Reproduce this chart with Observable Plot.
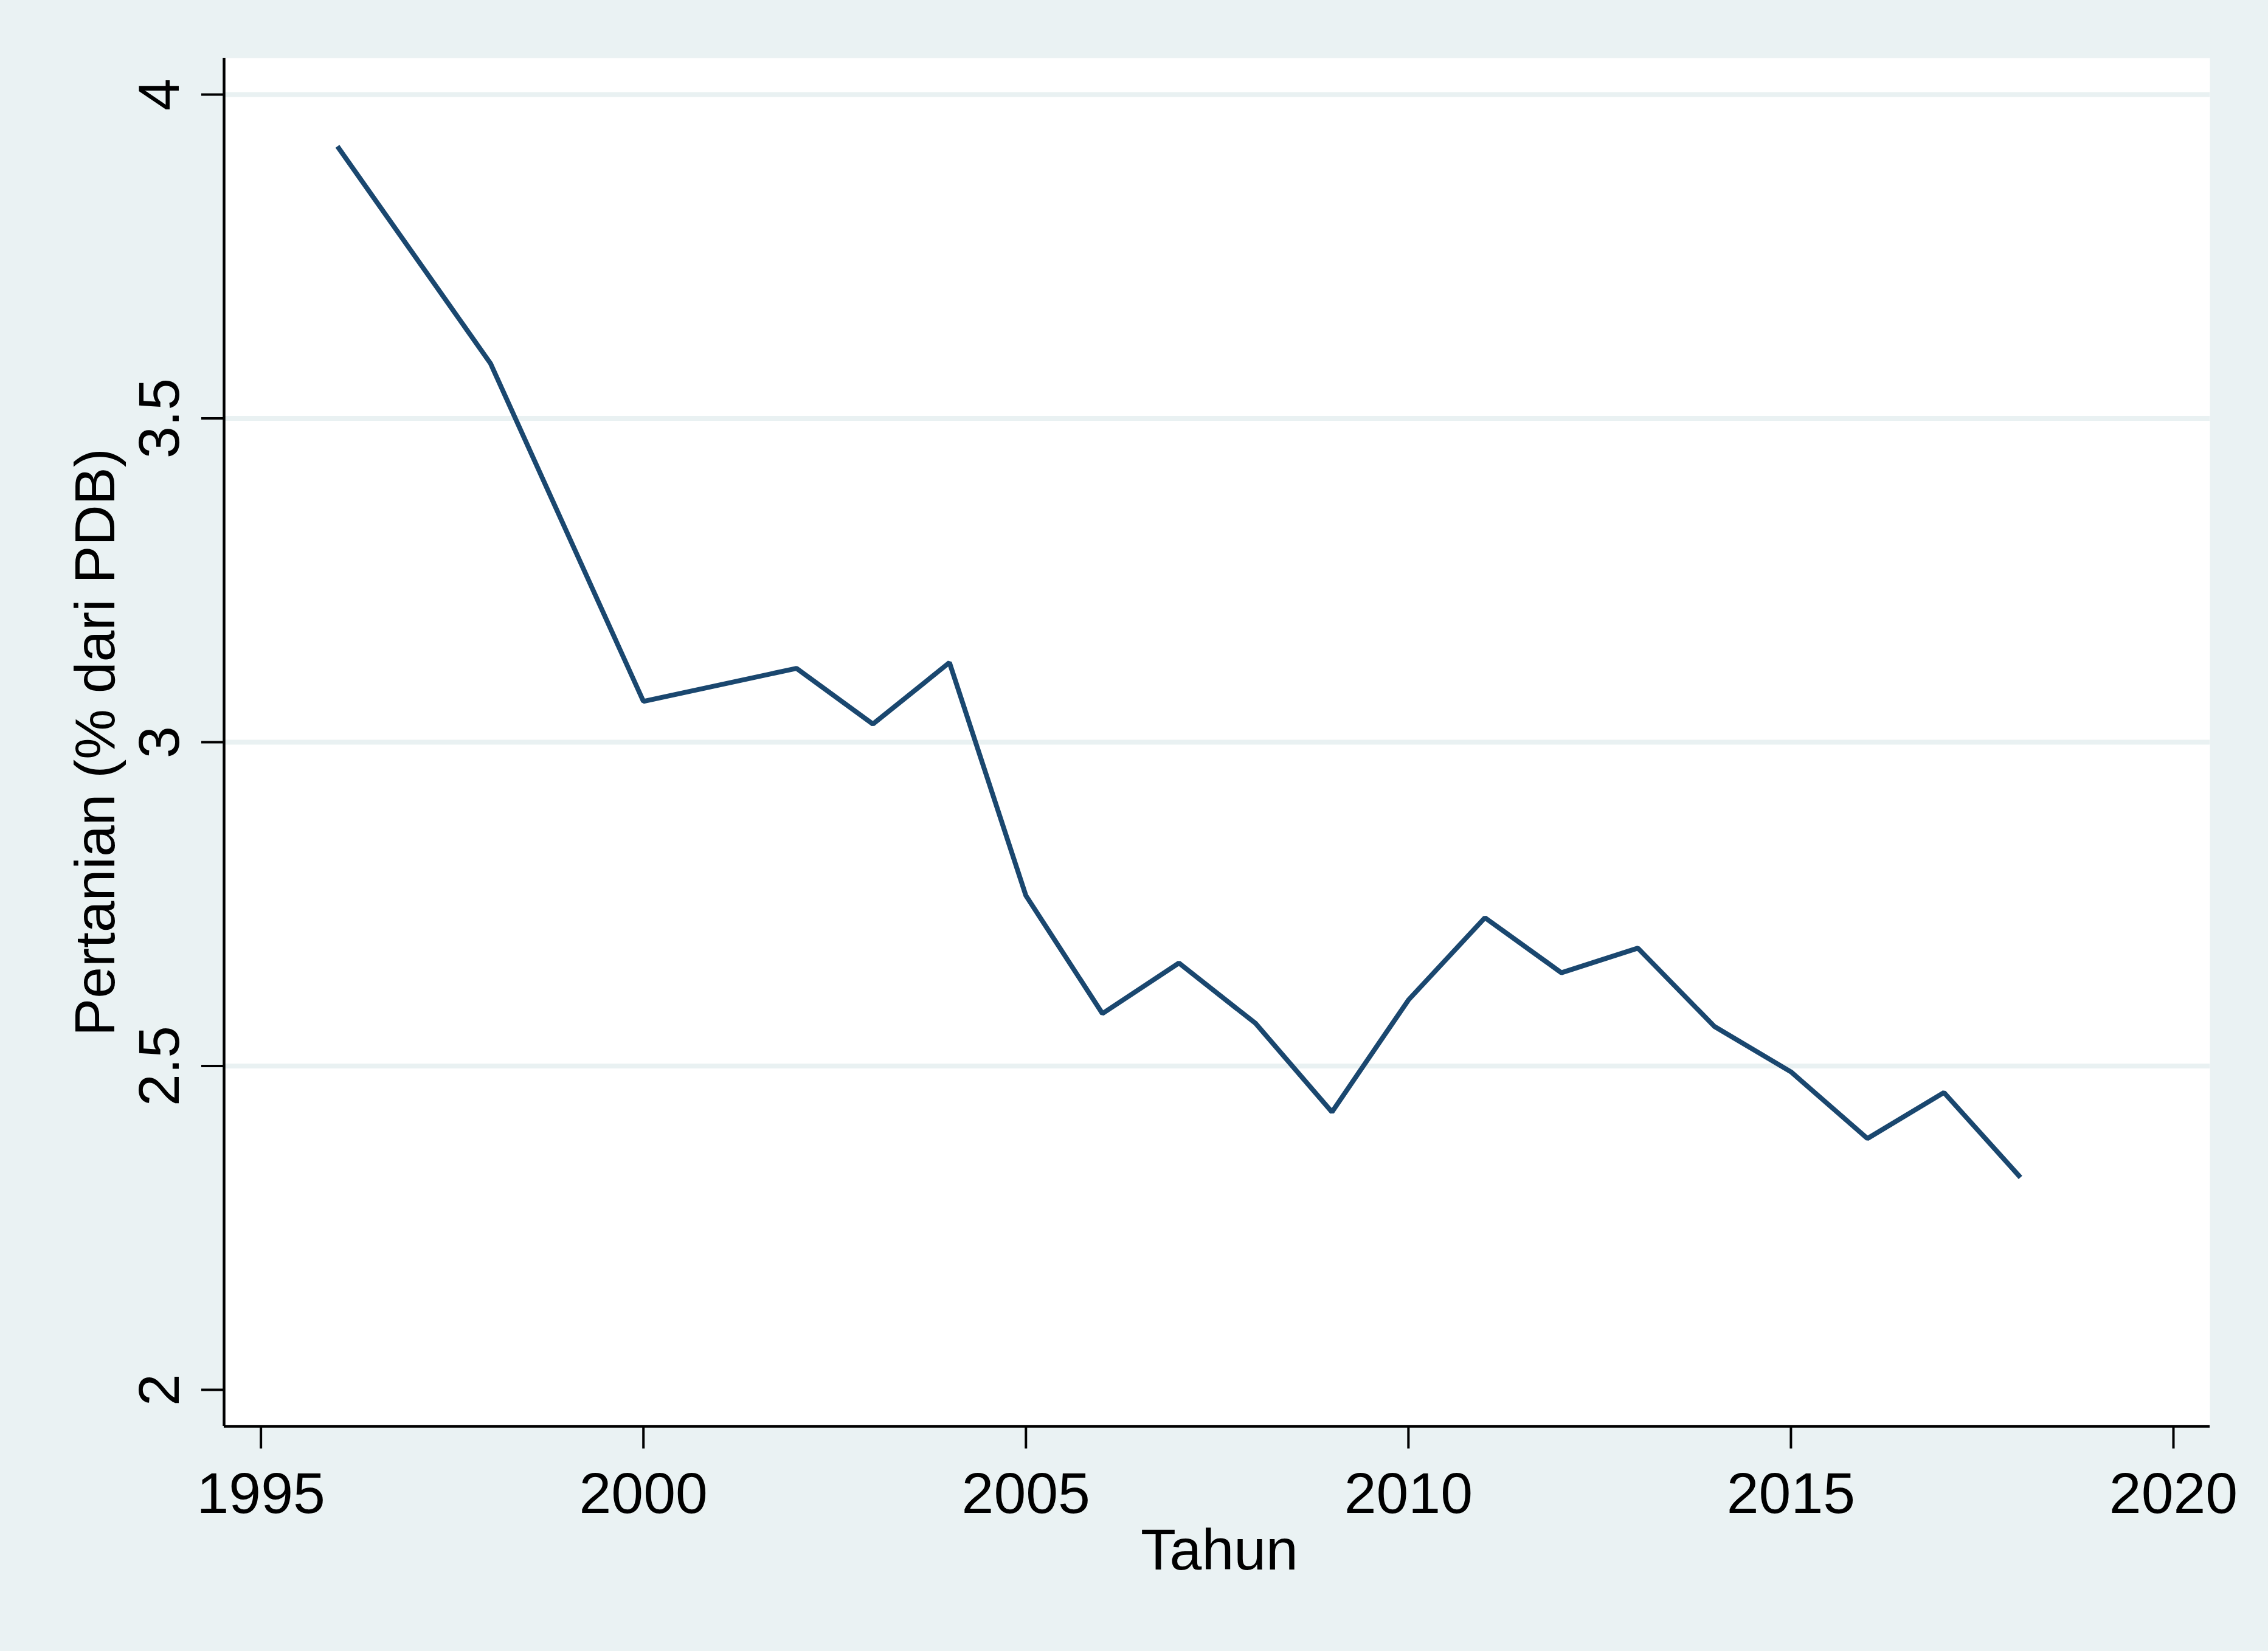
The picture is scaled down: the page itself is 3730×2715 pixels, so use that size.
<!DOCTYPE html>
<html>
<head>
<meta charset="utf-8">
<script src="https://cdn.jsdelivr.net/npm/d3@7"></script>
<script src="https://cdn.jsdelivr.net/npm/@observablehq/plot@0.6"></script>
<style>
  html, body { margin: 0; padding: 0; background: #eaf2f3; }
  #chart svg { display: block; }
</style>
</head>
<body>
<div id="chart"></div>
<script>
// Data
const years  = [1996, 1998, 2000, 2002, 2003, 2004, 2005, 2006, 2007, 2008, 2009, 2010, 2011, 2012, 2013, 2014, 2015, 2016, 2017, 2018];
const values = [3.920, 3.585, 3.063, 3.114, 3.028, 3.123, 2.763, 2.581, 2.659, 2.566, 2.429, 2.602, 2.729, 2.644, 2.682, 2.561, 2.491, 2.388, 2.459, 2.328];

const xTicks = [1995, 2000, 2005, 2010, 2015, 2020];
const yTicks = [2, 2.5, 3, 3.5, 4];
const yGrid  = [2.5, 3, 3.5, 4];
const xDomain = [1994.518, 2020.477];
const yDomain = [1.9437, 4.0563];
const xTitle = "Tahun";
const yTitle = "Pertanian (% dari PDB)";

const data = years.map((year, i) => ({year, value: values[i]}));

const FONT = 95;

const chart = Plot.plot({
  width: 3730,
  height: 2715,
  marginLeft: 368,
  marginRight: 96,
  marginTop: 95,
  marginBottom: 370,
  style: {background: "#eaf2f3", fontFamily: "'Liberation Sans', Arial, sans-serif", color: "black"},
  x: {domain: xDomain},
  y: {domain: yDomain},
  marks: [
    Plot.frame({fill: "white", stroke: null}),
    Plot.gridY(yGrid, {stroke: "#e9f1f2", strokeOpacity: 1, strokeWidth: 8}),
    Plot.line(data, {x: "year", y: "value", stroke: "#1a476f", strokeWidth: 8, strokeLinecap: "butt", strokeLinejoin: "miter"}),
    Plot.ruleX([xDomain[0]], {stroke: "black", strokeWidth: 4.5}),
    Plot.ruleY([yDomain[0]], {stroke: "black", strokeWidth: 4.5}),
    Plot.axisX({ticks: xTicks, tickSize: 37, tickPadding: 38, fontSize: FONT, strokeWidth: 4, stroke: "black", fill: "black", tickFormat: d => String(d), label: null}),
    Plot.axisY({ticks: yTicks, tickSize: 37, tickPadding: 38, tickRotate: -90, fontSize: FONT, strokeWidth: 4, stroke: "black", fill: "black", tickFormat: d => String(d), label: null}),
    Plot.text([yTitle], {frameAnchor: "left", dx: -181, rotate: -90, textAnchor: "middle", lineAnchor: "bottom", fontSize: 93, fill: "black", text: d => d}),
    Plot.text([xTitle], {frameAnchor: "bottom", dy: 235, dx: 4, textAnchor: "middle", lineAnchor: "bottom", fontSize: FONT, fill: "black", text: d => d})
  ]
});

document.getElementById("chart").appendChild(chart);
</script>
</body>
</html>
